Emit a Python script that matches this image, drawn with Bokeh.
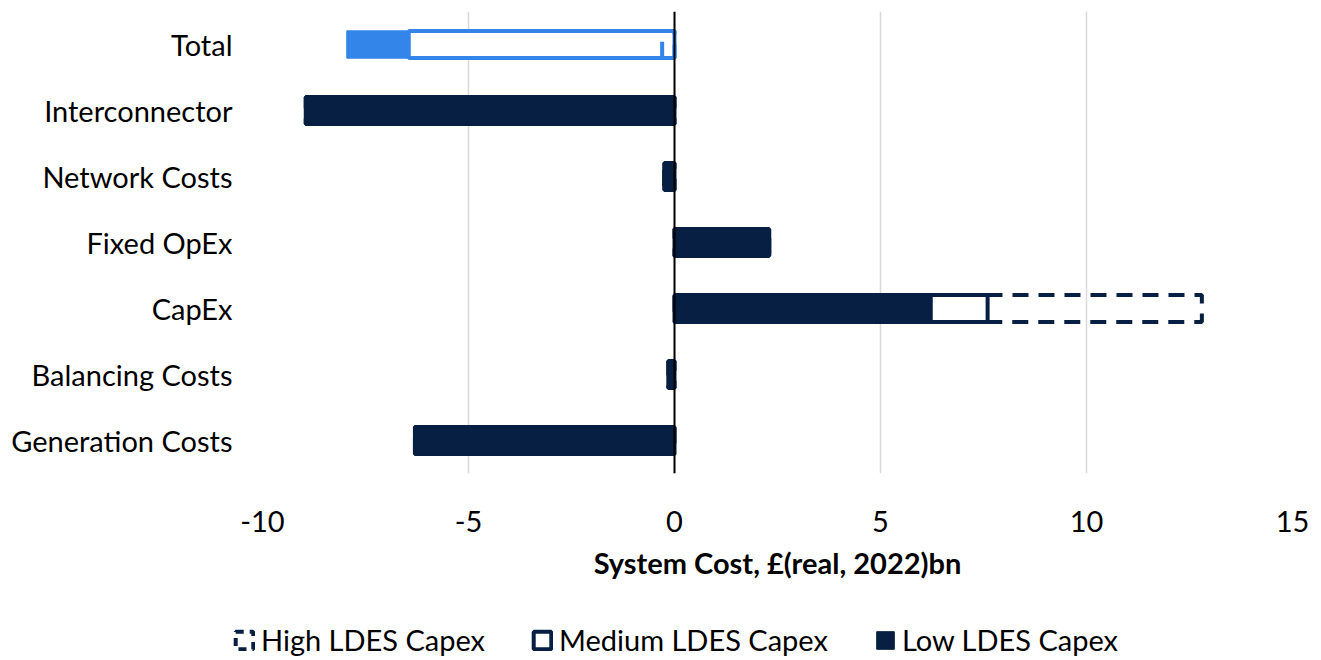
from bokeh.plotting import figure
from bokeh.layouts import column
from bokeh.models import (ColumnDataSource, CDSView, IndexFilter, FactorRange, Range1d,
                          Span, Legend, LegendItem, FixedTicker)
from bokeh.embed import file_html
from bokeh.resources import INLINE

# ---------------- data (bottom to top) ----------------
categories = ["Generation Costs", "Balancing Costs", "CapEx", "Fixed OpEx",
              "Network Costs", "Interconnector", "Total"]
high_ldes = [-6.3, -0.15, 12.8, 2.3, -0.25, -8.95, -0.3]
medium_ldes = [-6.3, -0.15, 7.6, 2.3, -0.25, -8.95, -6.45]
low_ldes = [-6.3, -0.15, 6.25, 2.3, -0.25, -8.95, -7.95]
x_ticks = [-10, -5, 0, 5, 10, 15]
series_names = ["High LDES Capex", "Medium LDES Capex", "Low LDES Capex"]

NAVY = "#061f42"
BLUE = "#3385ea"
FONT = "Lato"
FS = "29px"

colors = [BLUE if c == "Total" else NAVY for c in categories]

p = figure(width=1321, height=612,
           y_range=FactorRange(factors=categories, range_padding=0),
           x_range=Range1d(-10, 15),
           output_backend="svg", toolbar_location=None,
           min_border_left=262, min_border_right=29,
           min_border_top=11, min_border_bottom=139)
p.frame_align = False

values = [high_ldes, medium_ldes, low_ldes]
styles = [
    dict(fill_color=None, line_width=4, line_dash="16 10"),
    dict(fill_color="white", line_width=4),
    dict(fill_color="color", line_width=1.5),
]

sources = [ColumnDataSource(dict(cat=categories, val=v, color=colors)) for v in values]

# draw order per category: largest magnitude at the back
orders = []
for i in range(len(categories)):
    o = sorted(range(3), key=lambda s: (-abs(values[s][i]), s))
    orders.append(o)

for rank in range(3):
    for s in range(3):
        idx = [i for i in range(len(categories)) if orders[i][rank] == s]
        if not idx:
            continue
        p.hbar(y="cat", right="val", left=0, height=0.41, source=sources[s],
               view=CDSView(filter=IndexFilter(idx)),
               line_color="color", **styles[s])

p.add_layout(Span(location=0, dimension="height", line_color="black", line_width=2))

# axes
p.xaxis.ticker = FixedTicker(ticks=x_ticks)
p.xaxis.major_label_overrides = {t: str(t) for t in x_ticks}
p.xaxis.axis_label = "System Cost, £(real, 2022)bn"
p.xaxis.axis_label_text_font = FONT
p.xaxis.axis_label_text_font_size = FS
p.xaxis.axis_label_text_font_style = "bold"
p.xaxis.axis_label_text_color = "black"
p.xaxis.axis_label_standoff = 10
p.xaxis.major_label_standoff = 31
for ax in (p.xaxis, p.yaxis):
    ax.axis_line_color = None
    ax.major_tick_line_color = None
    ax.minor_tick_line_color = None
    ax.major_label_text_font = FONT
    ax.major_label_text_font_size = FS
    ax.major_label_text_color = "black"
p.yaxis.major_label_standoff = 24

p.xgrid.grid_line_color = "#d9d9d9"
p.xgrid.grid_line_width = 1.5
p.ygrid.grid_line_color = None
p.outline_line_color = None

# ---------------- legend strip ----------------
# the strip's own category range holds none of the chart's categories,
# so its proxy bars are never drawn; only the legend is shown
p2 = figure(width=1321, height=48,
            y_range=FactorRange(factors=["legend"]),
            x_range=Range1d(-10, 15),
            output_backend="svg", toolbar_location=None,
            min_border=0, x_axis_location=None, y_axis_location=None)
p2.frame_align = False
p2.grid.visible = False
p2.outline_line_color = None

legend_styles = [
    dict(fill_color=None, line_color=NAVY, line_width=4, line_dash="8 6"),
    dict(fill_color="white", line_color=NAVY, line_width=4),
    dict(fill_color=NAVY, line_color=NAVY, line_width=1),
]
items = []
for s in range(3):
    r = p2.hbar(y="cat", right="val", left=0, height=0.4, source=sources[s],
                **legend_styles[s])
    items.append(LegendItem(label=series_names[s], renderers=[r]))

legend = Legend(items=items, orientation="horizontal", location=(233, 3),
                glyph_width=22, glyph_height=22, label_standoff=6, spacing=46,
                padding=0, margin=0, border_line_color=None, background_fill_alpha=0,
                label_text_font=FONT, label_text_font_size=FS, label_text_color="black")
p2.add_layout(legend, "center")

layout = column(p, p2, spacing=0)
open("out.html", "w").write(file_html(layout, INLINE))
